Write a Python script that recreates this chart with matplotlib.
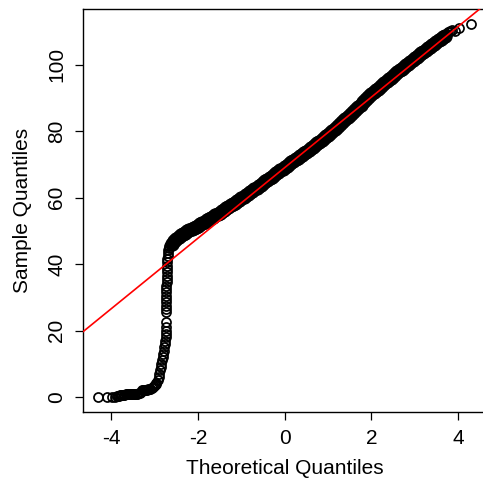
import matplotlib
matplotlib.use("Agg")
import matplotlib.pyplot as plt

plt.rcParams["font.family"] = ["Liberation Sans", "DejaVu Sans"]

# lower tail: values piled up near zero, then the steep climb
tail_lo_x = [-4.31, -4.10, -3.98, -3.92, -3.88, -3.85, -3.82, -3.79, -3.77, -3.75,
             -3.72, -3.70, -3.67, -3.65, -3.62, -3.60, -3.57, -3.55, -3.52, -3.50,
             -3.47, -3.45, -3.42, -3.40, -3.37, -3.35, -3.32, -3.30, -3.27, -3.25,
             -3.22, -3.20, -3.17, -3.15, -3.12, -3.10, -3.07, -3.05, -3.02, -3.00,
             -2.98, -2.96, -2.935, -2.91, -2.89, -2.875, -2.86,
             -2.85, -2.835, -2.82, -2.81, -2.795, -2.78, -2.77, -2.76, -2.75, -2.74,
             -2.735, -2.73, -2.735]
tail_lo_y = [0.0, 0.0, 0.0, 0.1, 0.2, 0.3, 0.4, 0.5, 0.6, 0.6,
             0.7, 0.7, 0.8, 0.8, 0.8, 0.8, 0.9, 0.9, 0.9, 0.9,
             1.0, 1.0, 1.0, 1.0, 1.1, 1.2, 1.6, 2.0, 2.0, 2.1,
             2.1, 2.2, 2.2, 2.3, 2.4, 2.5, 2.7, 3.0, 3.3, 3.6,
             3.9, 4.2, 5.0, 6.0, 7.0, 8.0, 9.0,
             10.0, 11.0, 12.0, 13.0, 14.0, 15.0, 16.0, 17.0, 18.0, 19.0,
             20.0, 21.0, 22.6]

# second vertical run and the bend into the main body
bend_x = [-2.745, -2.742, -2.740, -2.738, -2.736, -2.734, -2.732, -2.730, -2.728, -2.726,
          -2.724, -2.722, -2.720, -2.717, -2.714, -2.711, -2.707, -2.702, -2.696, -2.688,
          -2.675, -2.66, -2.63]
bend_y = [25.5, 26.5, 27.5, 28.5, 29.5, 30.5, 31.5, 32.5, 33.5, 34.5,
          35.5, 36.5, 37.5, 38.5, 39.5, 40.5, 41.5, 42.5, 43.4, 44.2,
          44.9, 45.4, 45.8]

# main body of the sample
body_x = [-2.60, -2.55, -2.50, -2.45, -2.40, -2.35, -2.30, -2.25, -2.20, -2.15,
          -2.10, -2.05, -2.00, -1.95, -1.90, -1.85, -1.80, -1.75, -1.70, -1.65,
          -1.60, -1.55, -1.50, -1.45, -1.40, -1.35, -1.30, -1.25, -1.20, -1.15,
          -1.10, -1.05, -1.00, -0.95, -0.90, -0.85, -0.80, -0.75, -0.70, -0.65,
          -0.60, -0.55, -0.50, -0.45, -0.40, -0.35, -0.30, -0.25, -0.20, -0.15,
          -0.10, -0.05, 0.00, 0.05, 0.10, 0.15, 0.20, 0.25, 0.30, 0.35,
          0.40, 0.45, 0.50, 0.55, 0.60, 0.65, 0.70, 0.75, 0.80, 0.85,
          0.90, 0.95, 1.00, 1.05, 1.10, 1.15, 1.20, 1.25, 1.30, 1.35,
          1.40, 1.45, 1.50, 1.55, 1.60, 1.65, 1.70, 1.75, 1.80, 1.85,
          1.90, 1.95, 2.00, 2.05, 2.10, 2.15, 2.20, 2.25, 2.30, 2.35,
          2.40, 2.45, 2.50, 2.55, 2.60, 2.65, 2.70, 2.75, 2.80, 2.85,
          2.90, 2.95, 3.00, 3.05, 3.10, 3.15, 3.20, 3.25, 3.30, 3.35,
          3.40, 3.45, 3.50, 3.55, 3.60, 3.65, 3.70]
body_y = [46.0, 46.9, 47.6, 48.1, 48.6, 49.0, 49.4, 49.8, 50.1, 50.5,
          50.8, 51.2, 51.5, 51.9, 52.3, 52.7, 53.1, 53.5, 53.9, 54.3,
          54.7, 55.1, 55.5, 55.9, 56.4, 56.8, 57.2, 57.7, 58.1, 58.5,
          58.9, 59.4, 59.8, 60.3, 60.7, 61.2, 61.6, 62.1, 62.6, 63.0,
          63.5, 63.9, 64.4, 64.9, 65.4, 65.8, 66.3, 66.8, 67.3, 67.8,
          68.2, 68.7, 69.2, 69.6, 70.1, 70.6, 71.0, 71.5, 72.0, 72.4,
          72.9, 73.3, 73.8, 74.3, 74.8, 75.3, 75.8, 76.3, 76.8, 77.3,
          77.8, 78.4, 78.9, 79.5, 80.1, 80.7, 81.3, 81.9, 82.5, 83.1,
          83.7, 84.3, 84.9, 85.5, 86.1, 86.7, 87.3, 87.9, 88.6, 89.2,
          89.8, 90.4, 91.0, 91.6, 92.2, 92.7, 93.3, 93.9, 94.4, 95.0,
          95.6, 96.1, 96.7, 97.2, 97.7, 98.3, 98.8, 99.3, 99.8, 100.3,
          100.9, 101.4, 101.9, 102.4, 102.9, 103.4, 103.9, 104.4, 104.9, 105.3,
          105.8, 106.3, 106.8, 107.3, 107.8, 108.2, 108.7]

# upper tail
tail_hi_x = [3.74, 3.78, 3.82, 3.86, 3.93, 4.03, 4.30]
tail_hi_y = [109.3, 109.7, 110.0, 110.4, 110.2, 110.9, 112.1]

# reference line through the quartiles
line_intercept = 69.0
line_slope = 10.6

xticks = [-4, -2, 0, 2, 4]
yticks = [0, 20, 40, 60, 80, 100]

fig = plt.figure(figsize=(4.83, 4.82), dpi=100)
ax = fig.add_axes([83 / 483, 70 / 482, 403.4 / 483, 403 / 482])

# open circles; the dense middle is drawn with a heavier edge so it fills in
mk = dict(ls="none", marker="o", mfc="none", mec="black", ms=6.5, mew=1.25)
ax.plot(tail_lo_x, tail_lo_y, **mk)
ax.plot(bend_x, bend_y, **mk)
ax.plot(tail_hi_x, tail_hi_y, **mk)
ax.plot(body_x, body_y, ls="none", marker="o", mfc="none", mec="black", ms=7.4, mew=3.0)

ax.axline((0, line_intercept), slope=line_slope, color="red", lw=1.2, zorder=3)

ax.set_xlim(-4.655, 4.655)
ax.set_ylim(-4.49, 116.7)
ax.set_xticks(xticks)
ax.set_xticklabels([str(t) for t in xticks])
ax.set_yticks(yticks)
ax.set_yticklabels([str(t) for t in yticks], rotation=90, va="center")
ax.tick_params(direction="out", length=6, width=0.9, labelsize=15, pad=6)
for s in ax.spines.values():
    s.set_linewidth(1.0)

fig.text(284.7 / 483, 1 - 468 / 482, "Theoretical Quantiles", ha="center", va="center", fontsize=15)
fig.text(23 / 483, 1 - 210.5 / 482, "Sample Quantiles", ha="center", va="center",
         rotation=90, fontsize=15)

fig.savefig("out.png", dpi=100)
